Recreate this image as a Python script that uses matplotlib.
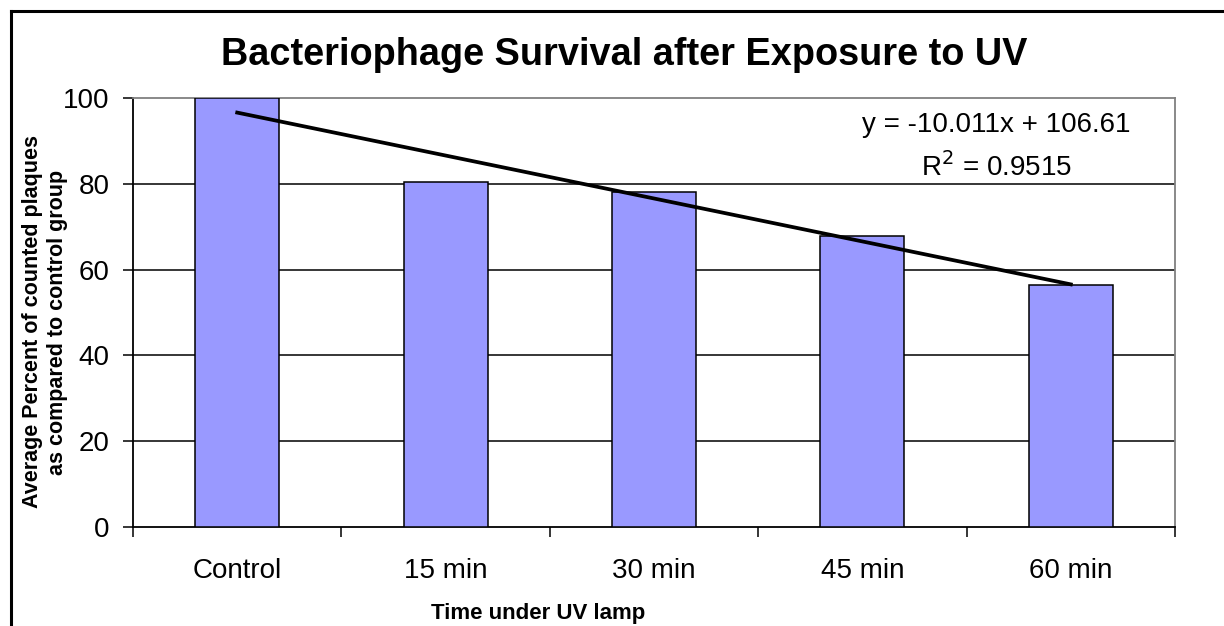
import matplotlib
matplotlib.use("Agg")
import matplotlib.pyplot as plt
from matplotlib.lines import Line2D
import numpy as np

plt.rcParams['font.family'] = ['Liberation Sans', 'DejaVu Sans']

categories = ["Control", "15 min", "30 min", "45 min", "60 min"]
values = [100, 80.4, 78.2, 67.8, 56.4]
trend_slope = -10.011
trend_intercept = 106.61
r_squared = 0.9515
yticks = [0, 20, 40, 60, 80, 100]

fig = plt.figure(figsize=(12.24, 6.26), dpi=100)
ax = fig.add_axes([133/1224, 1-527/626, (1175-133)/1224, (527-98)/626])

pos = np.arange(len(categories))
ax.bar(pos, values, width=0.403, color='#9999FF', edgecolor='black', linewidth=1.1, zorder=3)

# trendline (Excel numbers x = 1..n)
xn = np.array([1, len(categories)])
ax.plot(xn - 1, trend_slope * xn + trend_intercept, color='black', linewidth=2.7, zorder=4)

ax.set_xlim(-0.5, len(categories) - 0.5)
ax.set_ylim(0, 100)

ax.set_yticks(yticks)
ax.set_yticklabels([str(v) for v in yticks], fontsize=20)
ax.tick_params(axis='y', length=7, width=1.1, direction='out', pad=10)

ax.set_xticks(np.arange(-0.5, len(categories), 1.0))
ax.set_xticklabels([])
ax.tick_params(axis='x', which='major', length=7, width=1.1, direction='out')
ax.set_xticks(pos, minor=True)
ax.set_xticklabels(categories, minor=True, fontsize=20)
ax.tick_params(axis='x', which='minor', length=0, pad=22)

for v in yticks[1:-1]:
    ax.axhline(v, color='black', linewidth=1.1, zorder=1)

for s in ['left', 'bottom']:
    ax.spines[s].set_color('black')
    ax.spines[s].set_linewidth(1.3)
for s in ['top', 'right']:
    ax.spines[s].set_color('#808080')
    ax.spines[s].set_linewidth(1.3)

ax.text(996/1224, 1-125/626, f"y = {trend_slope}x + {trend_intercept}", transform=fig.transFigure,
        ha='center', va='center', fontsize=20)
ax.text(996/1224, 1-167/626, f"R$^2$ = {r_squared}", transform=fig.transFigure,
        ha='center', va='center', fontsize=20)

fig.text(624/1224, 1-55/626, "Bacteriophage Survival after Exposure to UV",
         ha='center', va='center', fontsize=27.3, fontweight='bold')
fig.text(538/1224, 1-613/626, "Time under UV lamp", ha='center', va='center',
         fontsize=16, fontweight='bold')
fig.text(45/1224, 1-322/626, "Average Percent of counted plaques\nas compared to control group",
         ha='center', va='center', rotation=90, fontsize=15.5, fontweight='bold',
         multialignment='center', linespacing=1.3)

# outer chart border (top and left visible)
fig.add_artist(Line2D([11/1224, 1.0], [1-11/626, 1-11/626], transform=fig.transFigure,
                      color='black', linewidth=2.2))
fig.add_artist(Line2D([11/1224, 11/1224], [1-11/626, 0.0], transform=fig.transFigure,
                      color='black', linewidth=2.2))

fig.savefig("out.png", dpi=100)
